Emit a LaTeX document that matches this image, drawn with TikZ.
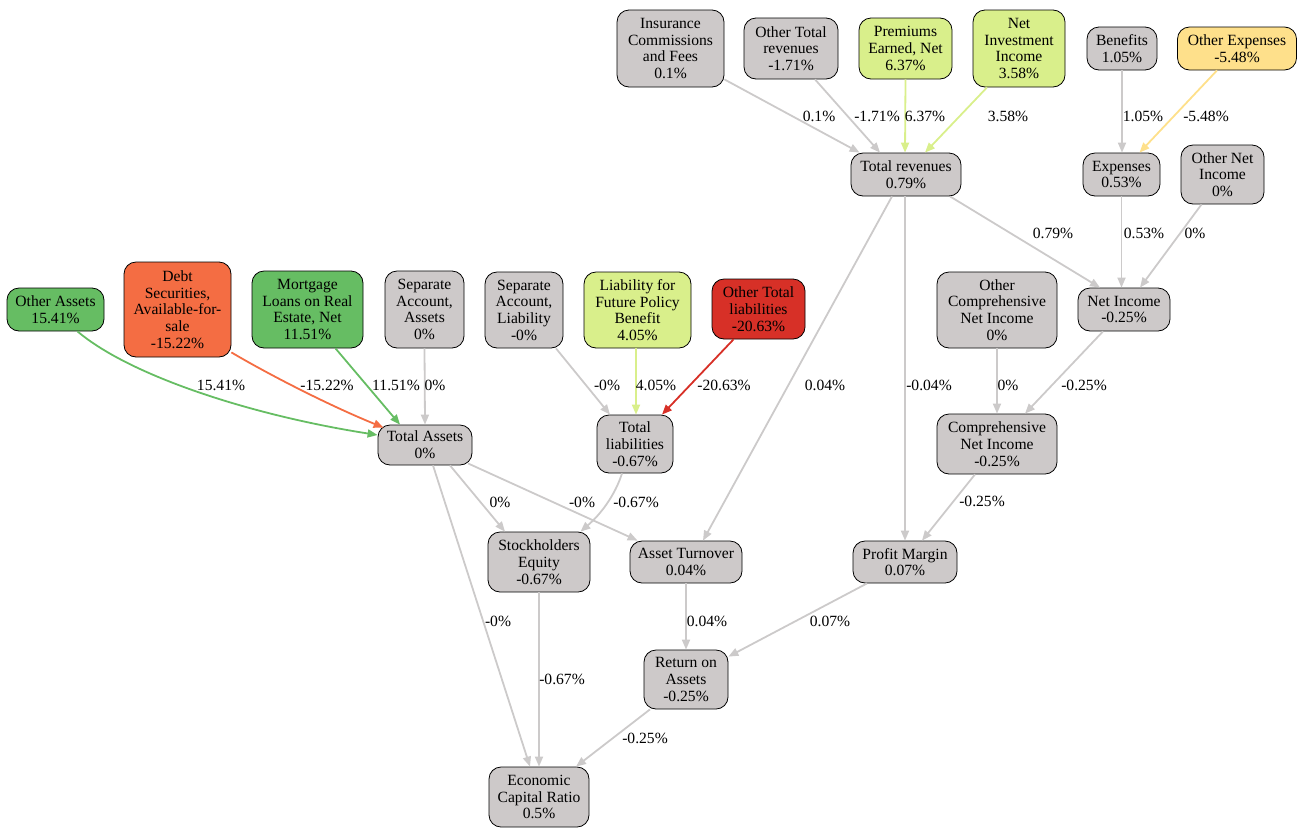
\documentclass[tikz,border=0pt]{standalone}
\usepackage{fontspec}
\setmainfont{Liberation Serif}
\usetikzlibrary{arrows.meta}
\definecolor{snowthree}{RGB}{205,201,201}
\definecolor{edgegray}{RGB}{204,202,202}
\definecolor{cgreen}{RGB}{102,189,99}
\definecolor{corange}{RGB}{244,109,67}
\definecolor{cred}{RGB}{215,48,39}
\definecolor{clgreen}{RGB}{217,239,139}
\definecolor{cyellow}{RGB}{254,224,139}
\tikzset{
  box/.style={draw=black, line width=0.8pt, rounded corners=12pt, fill=snowthree, align=center, inner sep=0pt, font=\fontsize{15.6}{16.7}\selectfont},
  lab/.style={inner sep=0pt, font=\fontsize{15.6}{16.7}\selectfont},
  conn/.style={draw=edgegray, line width=1.8pt, -{Triangle[length=10pt,width=8pt]}},
}
\begin{document}
\begin{tikzpicture}[x=1pt,y=-1pt]
\useasboundingbox (0,0) rectangle (1298,828);
% nodes
\node[box, minimum width=107, minimum height=77] (ins) at (670.5,48.5) {Insurance\\Commissions\\and Fees\\0.1\%};
\node[box, minimum width=94, minimum height=61] (otr) at (791,48.5) {Other Total\\revenues\\-1.71\%};
\node[box, fill=clgreen, minimum width=93, minimum height=61] (pen) at (905.5,48.5) {Premiums\\Earned, Net\\6.37\%};
\node[box, fill=clgreen, minimum width=92, minimum height=77] (nii) at (1019,48.5) {Net\\Investment\\Income\\3.58\%};
\node[box, minimum width=70, minimum height=43] (ben) at (1122,48.5) {Benefits\\1.05\%};
\node[box, fill=cyellow, minimum width=119, minimum height=43] (oexp) at (1237,48.5) {Other Expenses\\-5.48\%};
\node[box, minimum width=110, minimum height=43] (tr) at (906,174.5) {Total revenues\\0.79\%};
\node[box, minimum width=77, minimum height=43] (exp) at (1121.5,174.5) {Expenses\\0.53\%};
\node[box, minimum width=83, minimum height=59] (oni) at (1222.5,174.5) {Other Net\\Income\\0\%};
\node[box, fill=cgreen, minimum width=97, minimum height=43] (oa) at (55.5,309.5) {Other Assets\\15.41\%};
\node[box, fill=corange, minimum width=107, minimum height=95] (debt) at (177.5,309.5) {Debt\\Securities,\\Available-for-\\sale\\-15.22\%};
\node[box, fill=cgreen, minimum width=111, minimum height=77] (mort) at (307.5,309.5) {Mortgage\\Loans on Real\\Estate, Net\\11.51\%};
\node[box, minimum width=79, minimum height=77] (saa) at (424.5,309.5) {Separate\\Account,\\Assets\\0\%};
\node[box, minimum width=94, minimum height=40] (ta) at (425,445) {Total Assets\\0\%};
\node[box, minimum width=78, minimum height=76] (sal) at (524,310) {Separate\\Account,\\Liability\\-0\%};
\node[box, fill=clgreen, minimum width=107, minimum height=76] (lfpb) at (637.5,310) {Liability for\\Future Policy\\Benefit\\4.05\%};
\node[box, fill=cred, minimum width=93, minimum height=60] (otl) at (758.5,309) {Other Total\\liabilities\\-20.63\%};
\node[box, minimum width=76, minimum height=58] (tl) at (635,444) {Total\\liabilities\\-0.67\%};
\node[box, minimum width=120, minimum height=76] (ocni) at (997,310) {Other\\Comprehensive\\Net Income\\0\%};
\node[box, minimum width=92, minimum height=43] (ni) at (1124,309.5) {Net Income\\-0.25\%};
\node[box, minimum width=120, minimum height=60] (cni) at (997,444) {Comprehensive\\Net Income\\-0.25\%};
\node[box, minimum width=102, minimum height=60] (se) at (539,562) {Stockholders\\Equity\\-0.67\%};
\node[box, minimum width=112, minimum height=42] (at) at (686,562) {Asset Turnover\\0.04\%};
\node[box, minimum width=104, minimum height=42] (pm) at (905,562) {Profit Margin\\0.07\%};
\node[box, minimum width=84, minimum height=59] (roa) at (686,679.5) {Return on\\Assets\\-0.25\%};
\node[box, minimum width=100, minimum height=60] (ecr) at (539,797) {Economic\\Capital Ratio\\0.5\%};
% connectors
\draw[conn] ([yshift=8]ins.south east) -- ([xshift=9]tr.north west);
\draw[conn] ([xshift=24]otr.south) -- ([xshift=-26]tr.north);
\draw[conn, draw=clgreen] (pen.south) -- ([xshift=-1]tr.north);
\draw[conn, draw=clgreen] ([xshift=-32]nii.south) -- ([xshift=19]tr.north);
\draw[conn] (ben.south) -- (ben.south |- exp.north);
\draw[conn, draw=cyellow] ([xshift=-20]oexp.south) -- ([xshift=18]exp.north);
\draw[conn] ([xshift=44]tr.south) -- ([xshift=-24]ni.north);
\draw[conn] (exp.south) -- (exp.south |- ni.north);
\draw[conn] ([xshift=-21]oni.south) -- ([xshift=16]ni.north);
\draw[conn] ([xshift=-14]tr.south) -- ([xshift=17]at.north);
\draw[conn] ([xshift=-1]tr.south) -- (pm.north);
\draw[conn] (ocni.south) -- (cni.north);
\draw[conn] ([xshift=-21]ni.south) -- ([xshift=28]cni.north);
\draw[conn] ([xshift=-22]cni.south) -- ([xshift=17]pm.north);
\draw[conn, draw=cgreen] ([xshift=22]oa.south) .. controls +(52,44) and +(-128,-20) .. ([yshift=10]ta.west);
\draw[conn, draw=corange] ([yshift=5]debt.south east) .. controls +(39,23) and +(-54,-22) .. ([xshift=6,yshift=-3]ta.north west);
\draw[conn, draw=cgreen] ([xshift=28]mort.south) -- ([xshift=-25]ta.north);
\draw[conn] (saa.south) -- (ta.north);
\draw[conn] ([xshift=32]sal.south) -- ([xshift=-25]tl.north);
\draw[conn, draw=clgreen] ([xshift=-1.5]lfpb.south) -- ([xshift=1]tl.north);
\draw[conn, draw=cred] ([xshift=-25]otl.south) -- ([xshift=27]tl.north);
\draw[conn] ([xshift=25]ta.south) -- ([xshift=-34]se.north);
\draw[conn] ([xshift=43,yshift=2]ta.south) -- ([xshift=8]at.north west);
\draw[conn] ([xshift=-13]tl.south) .. controls +(-7,22) and +(20,-17) .. ([xshift=-10]se.north east);
\draw[conn] ([xshift=8]ta.south) -- ([xshift=-9]ecr.north);
\draw[conn] (se.south) -- (ecr.north);
\draw[conn] (at.south) -- (roa.north);
\draw[conn] ([xshift=-38]pm.south) -- ([yshift=-7]roa.north east);
\draw[conn] ([xshift=-36]roa.south) -- ([xshift=37]ecr.north);
% labels
\node[lab] (l1) at (819,116) {0.1\%};
\node[lab] (l2) at (877,116) {-1.71\%};
\node[lab] (l3) at (925,116) {6.37\%};
\node[lab] (l4) at (1008,116) {3.58\%};
\node[lab] (l5) at (1143,116) {1.05\%};
\node[lab] (l6) at (1206,116) {-5.48\%};
\node[lab] (l7) at (1053,233) {0.79\%};
\node[lab] (l8) at (1144,233) {0.53\%};
\node[lab] (l9) at (1195,233) {0\%};
\node[lab] (l10) at (825,385) {0.04\%};
\node[lab] (l11) at (929,385) {-0.04\%};
\node[lab] (l12) at (1008,385) {0\%};
\node[lab] (l13) at (1084,385) {-0.25\%};
\node[lab] (l14) at (982,501) {-0.25\%};
\node[lab] (l15) at (221,385) {15.41\%};
\node[lab] (l16) at (327,385) {-15.22\%};
\node[lab] (l17) at (396,385) {11.51\%};
\node[lab] (l18) at (435,385) {0\%};
\node[lab] (l19) at (607,385) {-0\%};
\node[lab] (l20) at (656,385) {4.05\%};
\node[lab] (l21) at (724,385) {-20.63\%};
\node[lab] (l22) at (500,502) {0\%};
\node[lab] (l23) at (582,502) {-0\%};
\node[lab] (l24) at (636,502) {-0.67\%};
\node[lab] (l25) at (498,621) {-0\%};
\node[lab] (l26) at (562,679) {-0.67\%};
\node[lab] (l27) at (707,621) {0.04\%};
\node[lab] (l28) at (830,621) {0.07\%};
\node[lab] (l29) at (645,738) {-0.25\%};
\end{tikzpicture}
\end{document}
